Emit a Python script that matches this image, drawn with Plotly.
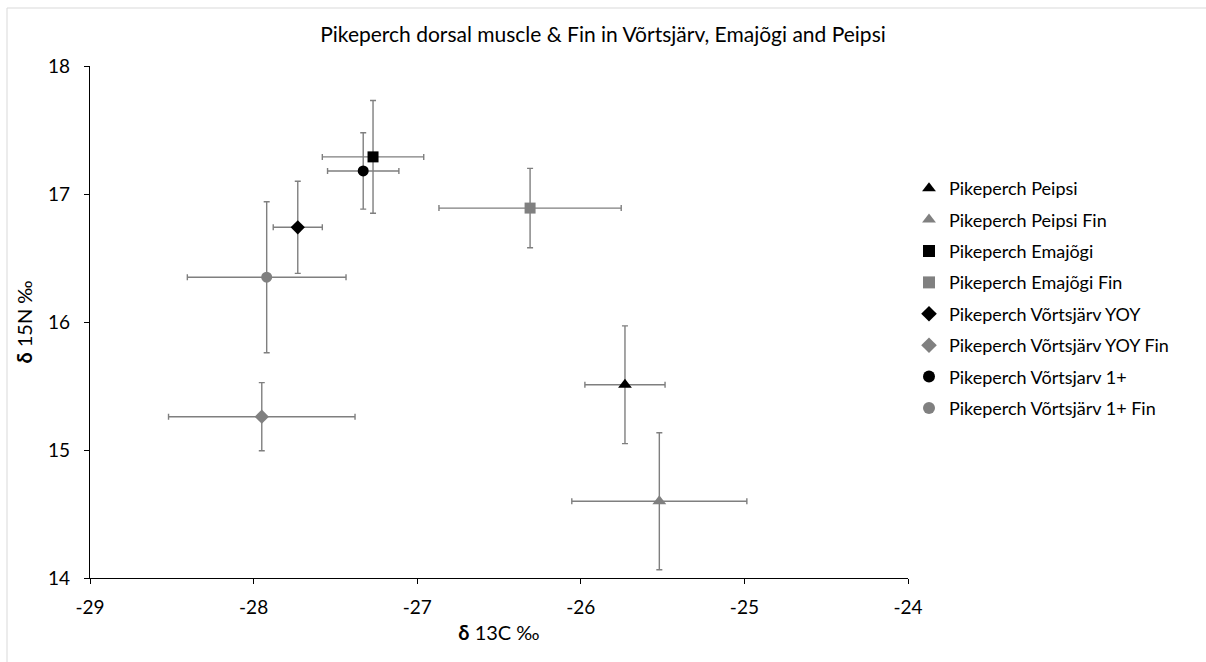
import plotly.graph_objects as go

names = ["Pikeperch Peipsi", "Pikeperch Peipsi Fin", "Pikeperch Emajõgi", "Pikeperch Emajõgi Fin",
         "Pikeperch Võrtsjärv YOY", "Pikeperch Võrtsjärv YOY Fin", "Pikeperch Võrtsjarv 1+",
         "Pikeperch Võrtsjärv 1+ Fin"]
d13c = [-25.73, -25.52, -27.27, -26.31, -27.73, -27.95, -27.33, -27.92]
d15n = [15.51, 14.60, 17.29, 16.89, 16.74, 15.26, 17.18, 16.35]
d13c_err = [0.245, 0.535, 0.31, 0.557, 0.15, 0.57, 0.218, 0.485]
d15n_err = [0.46, 0.535, 0.44, 0.31, 0.36, 0.266, 0.298, 0.59]
symbols = ["triangle-up", "triangle-up", "square", "square", "diamond", "diamond", "circle", "circle"]
colors = ["#000000", "#808080", "#000000", "#808080", "#000000", "#808080", "#000000", "#808080"]
sizes = [12, 12, 11, 11, 11, 11, 11, 11]

x_ticks = [-29, -28, -27, -26, -25, -24]
y_ticks = [14, 15, 16, 17, 18]

FONT = "Lato, 'Liberation Sans', sans-serif"
ERR = "#7f7f7f"

fig = go.Figure()
for i in range(len(names)):
    fig.add_trace(go.Scatter(
        x=[d13c[i]], y=[d15n[i]], mode="markers", name=names[i],
        legendgroup=f"g{i}",
        marker=dict(symbol=symbols[i], color=colors[i], size=sizes[i], line=dict(width=0)),
        error_x=dict(type="constant", value=d13c_err[i], color=ERR, thickness=1.4, width=3),
        error_y=dict(type="constant", value=d15n_err[i], color=ERR, thickness=1.4, width=3),
    ))

L, R, T, B = 90, 908, 66, 578
W, H = 1206, 662
pw, ph = R - L, B - T

def px_x(p):
    return (p - L) / pw

def px_y(p):
    return (B - p) / ph

fig.update_layout(
    width=W, height=H,
    margin=dict(l=L, r=W - R, t=T, b=H - B, autoexpand=False),
    paper_bgcolor="white", plot_bgcolor="white",
    font=dict(family=FONT, color="#000000"),
    title=dict(text="Pikeperch dorsal muscle & Fin in Võrtsjärv, Emajõgi and Peipsi",
               x=0.5, xref="container", y=1 - 35 / H, yref="container",
               xanchor="center", yanchor="middle",
               font=dict(size=21, family=FONT, color="#000000")),
    showlegend=True,
    legend=dict(x=px_x(909), y=px_y(170), xanchor="left", yanchor="top",
                font=dict(size=18, family=FONT, color="#000000"),
                tracegroupgap=5, bgcolor="rgba(0,0,0,0)", itemsizing="constant"),
    xaxis=dict(range=[-29, -24], tickvals=x_ticks, ticktext=[str(v) for v in x_ticks],
               showgrid=False, zeroline=False, showline=True, linecolor="#000000", linewidth=1.2,
               ticks="outside", ticklen=5, tickcolor="#000000", tickwidth=1,
               tickfont=dict(size=19, family=FONT), ticklabelstandoff=7,
               title=dict(text="<b>δ</b> 13C ‰", font=dict(size=20, family=FONT), standoff=9)),
    yaxis=dict(range=[14, 18], tickvals=y_ticks, ticktext=[str(v) for v in y_ticks],
               showgrid=False, zeroline=False, showline=True, linecolor="#000000", linewidth=1.2,
               ticks="outside", ticklen=5, tickcolor="#000000", tickwidth=1,
               tickfont=dict(size=19, family=FONT), ticklabelstandoff=10,
               title=dict(text="<b>δ</b> 15N ‰", font=dict(size=20, family=FONT), standoff=10)),
    shapes=[
        dict(type="line", xref="paper", yref="paper", x0=px_x(7), x1=px_x(1210), y0=px_y(8), y1=px_y(8),
             line=dict(color="#d9d9d9", width=1)),
        dict(type="line", xref="paper", yref="paper", x0=px_x(7), x1=px_x(7), y0=px_y(8), y1=px_y(670),
             line=dict(color="#d9d9d9", width=1)),
    ],
)

fig.write_html("out.html", config={"displayModeBar": False},
               post_script="document.body.style.margin='0px';")
